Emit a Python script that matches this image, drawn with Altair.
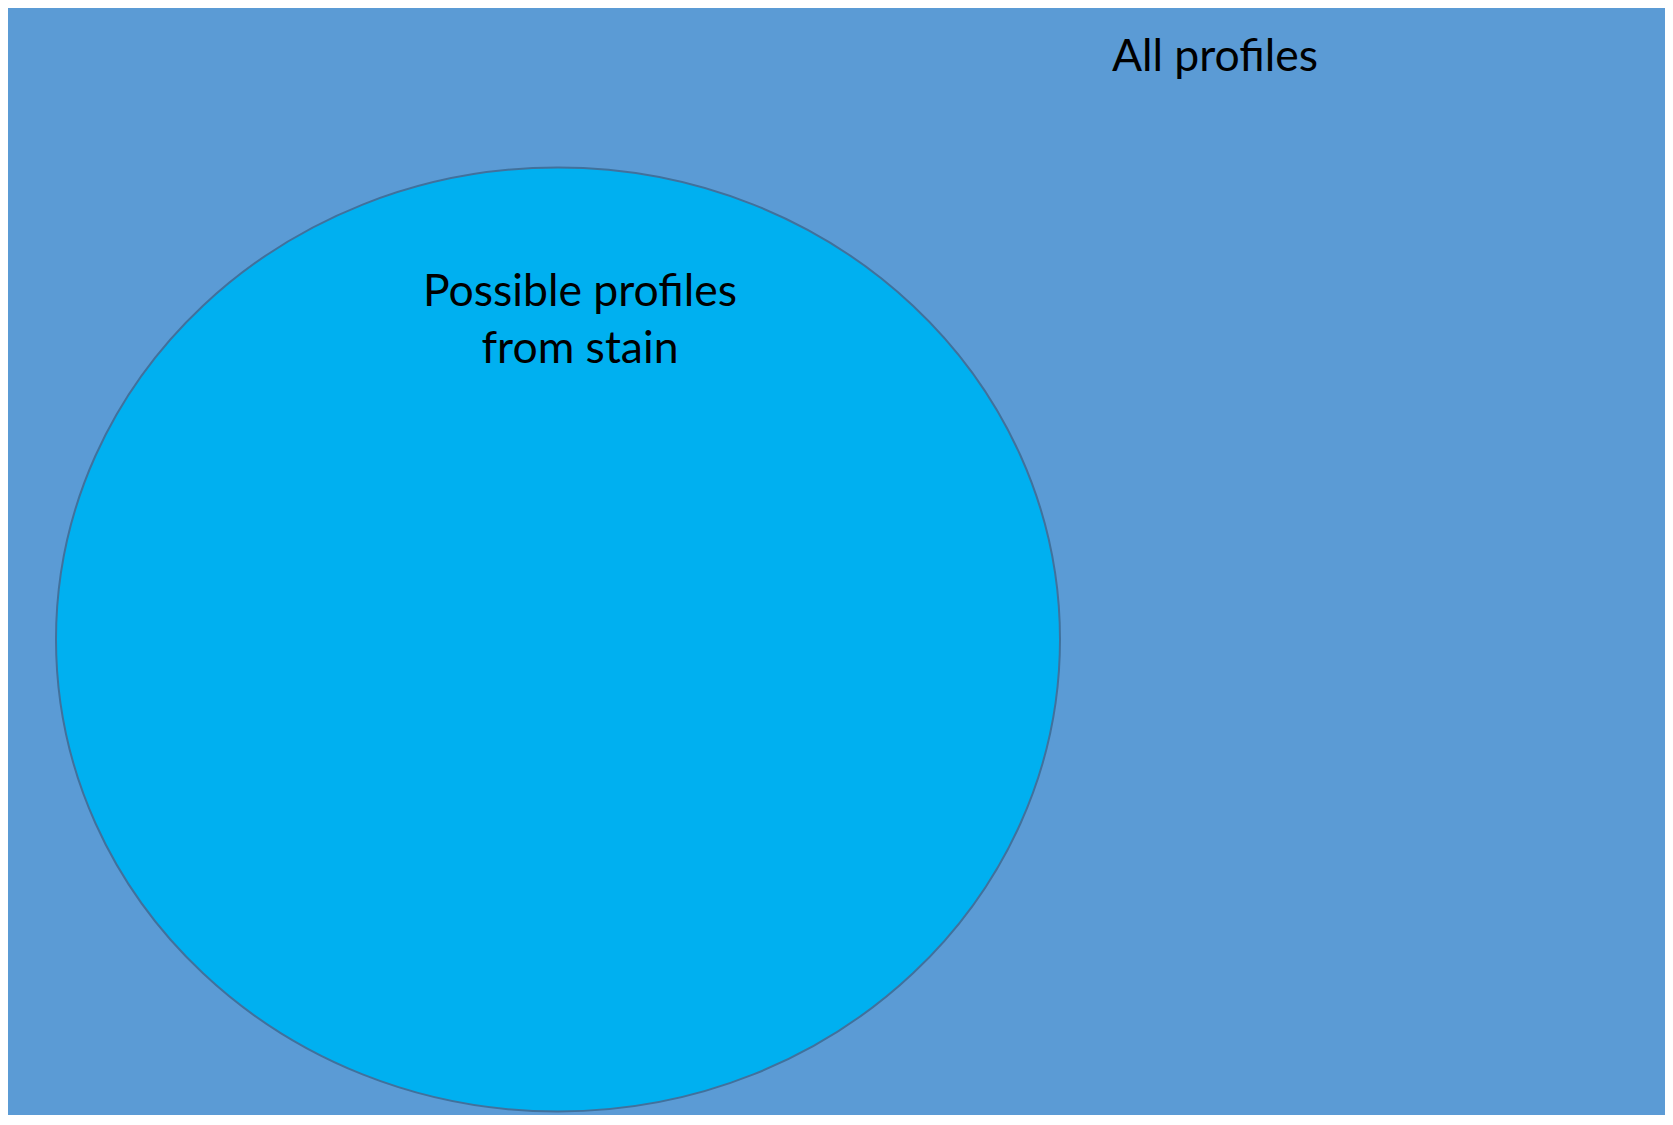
import altair as alt
import pandas as pd

# Venn-style diagram, coordinates in the reference picture's pixel space
set_names = ["All profiles", "Possible profiles from stain"]

# universe rectangle (x0, x1, y0, y1)
rect_x0 = [0]
rect_x1 = [1670]
rect_y0 = [0]
rect_y1 = [1123]

# subset ellipse centre
ell_cx = [558]
ell_cy = [639.5]

# labels
label_text = ["All profiles", "Possible profiles", "from stain"]
label_x = [1215, 580, 580]
label_y = [71, 306, 363]

W, H = 1657, 1107
X_DOM = [8, 8 + W]
Y_DOM = [8, 8 + H]

xs = alt.Scale(domain=X_DOM, nice=False, zero=False)
ys = alt.Scale(domain=Y_DOM, nice=False, zero=False, reverse=True)

rect_df = pd.DataFrame({"name": [set_names[0]], "x0": rect_x0, "x1": rect_x1,
                        "y0": rect_y0, "y1": rect_y1})
ell_df = pd.DataFrame({"name": [set_names[1]], "cx": ell_cx, "cy": ell_cy})
lab_df = pd.DataFrame({"t": label_text, "x": label_x, "y": label_y})

rect = alt.Chart(rect_df).mark_rect(
    fill="#5B9BD5", stroke="#41719C", strokeWidth=2, clip=True
).encode(
    x=alt.X("x0:Q", scale=xs, axis=None),
    x2="x1:Q",
    y=alt.Y("y0:Q", scale=ys, axis=None),
    y2="y1:Q",
)

rx, ry = 502.0, 472.0
ellipse_path = (
    f"M -1 0 A 1 {ry/rx:.5f} 0 1 0 1 0 A 1 {ry/rx:.5f} 0 1 0 -1 0 Z"
)
ellipse = alt.Chart(ell_df).mark_point(
    shape=ellipse_path, filled=True, fill="#00B0F0", stroke="#41719C",
    strokeWidth=2, opacity=1, fillOpacity=1, strokeOpacity=1,
    size=(2 * rx) ** 2, clip=True,
).encode(
    x=alt.X("cx:Q", scale=xs, axis=None),
    y=alt.Y("cy:Q", scale=ys, axis=None),
)

labels = alt.Chart(lab_df).mark_text(
    font="Lato", fontSize=44.5, color="black", align="center",
    baseline="alphabetic",
).encode(
    x=alt.X("x:Q", scale=xs, axis=None),
    y=alt.Y("y:Q", scale=ys, axis=None),
    text="t:N",
)

chart = alt.layer(rect, ellipse, labels).properties(
    width=W, height=H, padding=0,
    autosize=alt.AutoSizeParams(type="none"),
).configure_view(stroke=None)

chart.save("out.html", embed_options={"renderer": "svg", "actions": False})
